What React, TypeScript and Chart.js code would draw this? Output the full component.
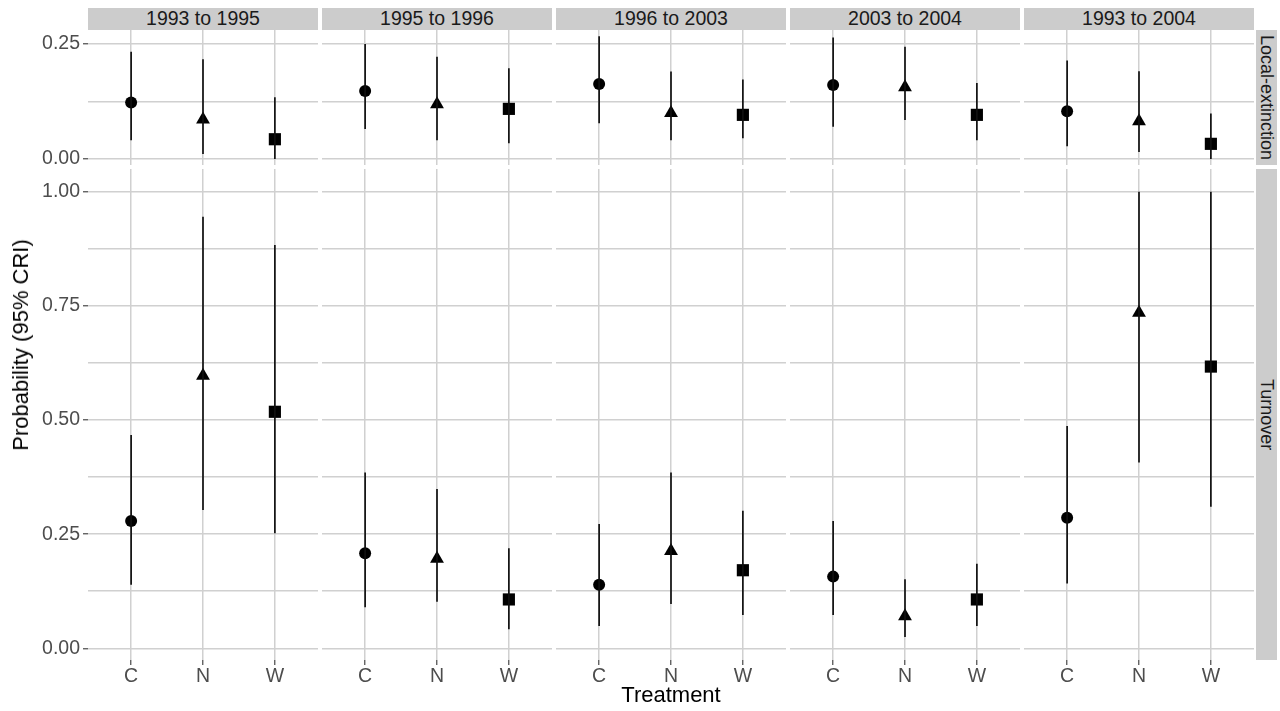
import React, { useEffect, useRef } from 'react';
import { Chart, registerables } from 'chart.js';

Chart.register(...registerables);

// ---------------- data ----------------
const PERIODS = ['1993 to 1995', '1995 to 1996', '1996 to 2003', '2003 to 2004', '1993 to 2004'];
const TREATMENTS = ['C', 'N', 'W'];
const ROWS = ['Local-extinction', 'Turnover'];

// Local-extinction: [period][C, N, W]
const EXT_MEAN = [
  [0.123, 0.086, 0.043],
  [0.148, 0.119, 0.109],
  [0.163, 0.100, 0.096],
  [0.161, 0.156, 0.096],
  [0.104, 0.082, 0.033],
];
const EXT_LOW = [
  [0.041, 0.011, 0.0],
  [0.065, 0.041, 0.034],
  [0.078, 0.041, 0.045],
  [0.070, 0.085, 0.041],
  [0.028, 0.015, 0.0],
];
const EXT_HIGH = [
  [0.233, 0.217, 0.134],
  [0.250, 0.222, 0.197],
  [0.267, 0.190, 0.173],
  [0.264, 0.244, 0.165],
  [0.214, 0.191, 0.099],
];

// Turnover: [period][C, N, W]
const TURN_MEAN = [
  [0.279, 0.597, 0.518],
  [0.208, 0.196, 0.107],
  [0.139, 0.213, 0.171],
  [0.157, 0.070, 0.107],
  [0.286, 0.735, 0.617],
];
const TURN_LOW = [
  [0.139, 0.303, 0.252],
  [0.090, 0.102, 0.042],
  [0.049, 0.097, 0.073],
  [0.073, 0.025, 0.049],
  [0.142, 0.407, 0.310],
];
const TURN_HIGH = [
  [0.467, 0.945, 0.883],
  [0.385, 0.349, 0.219],
  [0.272, 0.385, 0.301],
  [0.279, 0.151, 0.185],
  [0.487, 1.0, 1.0],
];

// tick values per row
const EXT_MAJOR_TICKS = [0, 0.25];
const EXT_MINOR_TICKS = [0.125];
const TURN_MAJOR_TICKS = [0, 0.25, 0.5, 0.75, 1.0];
const TURN_MINOR_TICKS = [0.125, 0.375, 0.625, 0.875];

// ---------------- layout / style ----------------
const PANEL_LEFT0 = 88;
const PANEL_STEP = 234;
const PANEL_W = 230;
const ROW_TOP = [30, 169];
const ROW_H = [135, 491];
const Y_AXIS_W = 88;
const TOP_EXTRA = 12;
const X_AXIS_H = 30;
const Y_LIMITS = [
  [-0.013, 0.2804],
  [-0.0256, 1.0497],
];
const GRID = '#d0d0d0';
const TICK = '#555555';
const TICK_TEXT = '#4d4d4d';
const STRIP_BG = '#cccccc';
const FONT = '"Liberation Sans", Arial, Helvetica, sans-serif';
const POINT_STYLES = ['circle', 'triangle', 'rect'];
const POINT_RADII = [6, 8, 8.6];

Chart.defaults.font.family = FONT;

function Panel({ row, col }: { row: number; col: number }) {
  const ref = useRef<HTMLCanvasElement>(null);
  const isLeft = col === 0;
  const isBottom = row === 1;
  const panelLeft = PANEL_LEFT0 + col * PANEL_STEP;
  const left = isLeft ? 0 : panelLeft;
  const width = panelLeft + PANEL_W - left;
  const top = ROW_TOP[row];
  const bottomExtra = isBottom ? X_AXIS_H : TOP_EXTRA;
  const height = ROW_H[row] + bottomExtra;

  useEffect(() => {
    const means = row === 0 ? EXT_MEAN[col] : TURN_MEAN[col];
    const lows = row === 0 ? EXT_LOW[col] : TURN_LOW[col];
    const highs = row === 0 ? EXT_HIGH[col] : TURN_HIGH[col];
    const majors = row === 0 ? EXT_MAJOR_TICKS : TURN_MAJOR_TICKS;
    const minors = row === 0 ? EXT_MINOR_TICKS : TURN_MINOR_TICKS;
    const allTicks = [...majors, ...minors].sort((a, b) => a - b);

    const barSets = TREATMENTS.map((t, i) => ({
      type: 'line' as const,
      label: t + ' CRI',
      data: [
        { x: i + 1, y: lows[i] },
        { x: i + 1, y: highs[i] },
      ],
      showLine: true,
      borderColor: '#111111',
      borderWidth: 1.7,
      pointRadius: 0,
      fill: false,
    }));
    const pointSet = {
      type: 'scatter' as const,
      label: 'mean',
      data: TREATMENTS.map((t, i) => ({ x: i + 1, y: means[i] })),
      pointStyle: POINT_STYLES,
      pointRadius: POINT_RADII,
      backgroundColor: '#000000',
      borderColor: '#000000',
      borderWidth: 0,
    };

    const chart = new Chart(ref.current as HTMLCanvasElement, {
      type: 'scatter',
      data: { datasets: [...barSets, pointSet] as any },
      options: {
        animation: false,
        responsive: false,
        maintainAspectRatio: false,
        layout: { padding: 0, autoPadding: false },
        plugins: { legend: { display: false }, tooltip: { enabled: false } },
        scales: {
          x: {
            type: 'linear',
            min: 0.4,
            max: 3.6,
            afterBuildTicks: (s: any) => {
              s.ticks = TREATMENTS.map((_, i) => ({ value: i + 1 }));
            },
            ticks: {
              display: isBottom,
              callback: (v: any) => TREATMENTS[Math.round(Number(v)) - 1],
              color: TICK_TEXT,
              font: { size: 19.5 },
              padding: 0,
              maxRotation: 0,
              autoSkip: false,
            },
            grid: {
              color: GRID,
              lineWidth: 1.5,
              drawTicks: isBottom,
              tickLength: 5,
              tickColor: TICK,
              tickWidth: 1.3,
            },
            border: { display: false },
            afterFit: (s: any) => {
              s.height = bottomExtra;
              s.paddingLeft = 0;
              s.paddingRight = 0;
            },
          },
          y: {
            type: 'linear',
            min: Y_LIMITS[row][0],
            max: Y_LIMITS[row][1],
            afterBuildTicks: (s: any) => {
              s.ticks = allTicks.map((v) => ({ value: v }));
            },
            ticks: {
              display: isLeft,
              callback: (v: any) => (majors.includes(Number(v)) ? Number(v).toFixed(2) : ''),
              color: TICK_TEXT,
              font: { size: 19.5 },
              padding: 3,
              autoSkip: false,
            },
            grid: {
              color: GRID,
              lineWidth: 1.5,
              drawTicks: isLeft,
              tickLength: 5,
              tickWidth: 1.3,
              tickColor: (ctx: any) =>
                ctx.tick && majors.includes(ctx.tick.value) ? TICK : 'rgba(0,0,0,0)',
            },
            border: { display: false },
            afterFit: (s: any) => {
              s.width = isLeft ? Y_AXIS_W : 0;
              s.paddingTop = 0;
              s.paddingBottom = 0;
            },
          },
        },
      } as any,
    });
    return () => chart.destroy();
  }, [row, col]);

  return (
    <canvas
      ref={ref}
      width={width}
      height={height}
      style={{ position: 'absolute', left, top, width, height, display: 'block' }}
    />
  );
}

export default function App() {
  const panels = [];
  for (let r = 0; r < ROWS.length; r++) {
    for (let c = 0; c < PERIODS.length; c++) {
      panels.push(<Panel key={`${r}-${c}`} row={r} col={c} />);
    }
  }
  return (
    <div
      style={{
        position: 'absolute',
        left: 0,
        top: 0,
        width: 1280,
        height: 711,
        background: '#ffffff',
        overflow: 'hidden',
        fontFamily: FONT,
      }}
    >
      {PERIODS.map((p, c) => (
        <div
          key={p}
          style={{
            position: 'absolute',
            left: PANEL_LEFT0 + c * PANEL_STEP,
            top: 8,
            width: PANEL_W,
            height: 22,
            background: STRIP_BG,
            color: '#1a1a1a',
            fontSize: 19.5,
            lineHeight: 1,
            display: 'flex',
            alignItems: 'center',
            justifyContent: 'center',
          }}
        >
          {p}
        </div>
      ))}
      {ROWS.map((name, r) => (
        <div
          key={name}
          style={{
            position: 'absolute',
            left: 1256,
            top: ROW_TOP[r],
            width: 21,
            height: ROW_H[r],
            background: STRIP_BG,
            color: '#1a1a1a',
            fontSize: 18,
            lineHeight: 1,
            display: 'flex',
            alignItems: 'center',
            justifyContent: 'center',
          }}
        >
          <span style={{ writingMode: 'vertical-rl', whiteSpace: 'nowrap' }}>{name}</span>
        </div>
      ))}
      {panels}
      <div
        style={{
          position: 'absolute',
          left: 20.5,
          top: 345,
          transform: 'translate(-50%, -50%) rotate(-90deg)',
          fontSize: 22,
          lineHeight: 1,
          whiteSpace: 'nowrap',
          color: '#000000',
        }}
      >
        Probability (95% CRI)
      </div>
      <div
        style={{
          position: 'absolute',
          left: 671,
          top: 695,
          transform: 'translate(-50%, -50%)',
          fontSize: 22,
          lineHeight: 1,
          whiteSpace: 'nowrap',
          color: '#000000',
        }}
      >
        Treatment
      </div>
    </div>
  );
}
